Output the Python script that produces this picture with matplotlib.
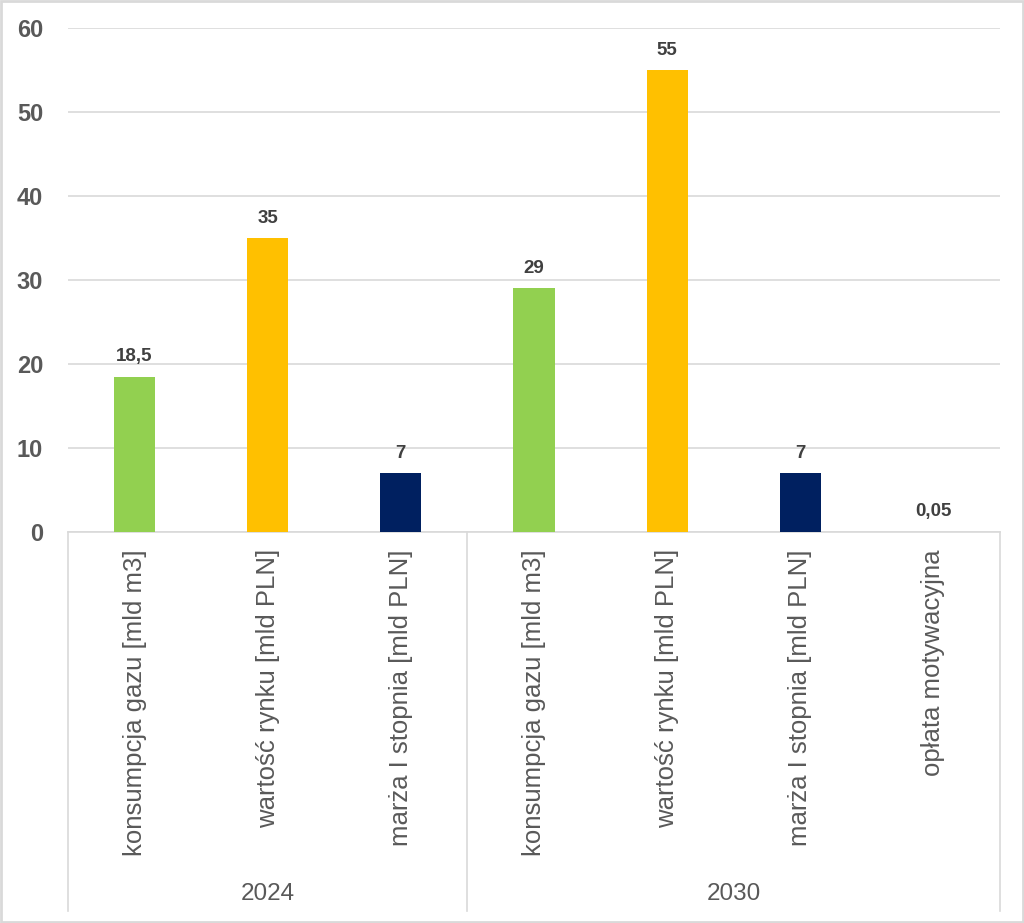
import matplotlib.pyplot as plt
from matplotlib.transforms import blended_transform_factory
from matplotlib.patches import Rectangle

plt.rcParams['font.family'] = ['Liberation Sans', 'DejaVu Sans']

categories = ["konsumpcja gazu [mld m3]", "wartość rynku [mld PLN]", "marża I stopnia [mld PLN]",
              "konsumpcja gazu [mld m3]", "wartość rynku [mld PLN]", "marża I stopnia [mld PLN]",
              "opłata motywacyjna"]
values = [18.5, 35, 7, 29, 55, 7, 0.05]
value_labels = ["18,5", "35", "7", "29", "55", "7", "0,05"]
colors = ["#92D050", "#FFC000", "#002060", "#92D050", "#FFC000", "#002060", "#002060"]
groups = ["2024", "2030"]
group_spans = [(0, 3), (3, 7)]

W, H = 1024, 923
fig = plt.figure(figsize=(W / 100, H / 100), dpi=100)
ax = fig.add_axes([68 / W, (H - 532) / H, (1000 - 68) / W, (532 - 28) / H])

x = list(range(len(values)))
ax.bar(x, values, width=0.31, color=colors, zorder=3)
ax.set_xlim(-0.5, len(values) - 0.5)
ax.set_ylim(0, 60)
ax.set_yticks(range(0, 61, 10))
ax.yaxis.grid(True, color="#D9D9D9", linewidth=1.2, zorder=0)
for s in ["top", "right", "left"]:
    ax.spines[s].set_visible(False)
ax.spines["bottom"].set_color("#D9D9D9")
ax.spines["bottom"].set_linewidth(1.2)
ax.tick_params(axis="y", length=0, pad=18, labelsize=17, labelcolor="#595959")
for lab in ax.get_yticklabels():
    lab.set_fontweight("bold")
ax.set_xticks([])

for xi, v, t in zip(x, values, value_labels):
    ax.annotate(t, (xi, v), xytext=(0, 8), textcoords="offset points",
                ha="center", va="bottom", fontsize=13.5, fontweight="bold", color="#404040")

trans = blended_transform_factory(ax.transData, fig.transFigure)
for xi, c in zip(x, categories):
    ax.text(xi, (H - 549) / H, c, transform=trans, rotation=90, ha="center", va="top",
            fontsize=18.5, color="#595959")

for g, (a, b) in zip(groups, group_spans):
    ax.text((a + b - 1) / 2, (H - 894) / H, g, transform=trans, ha="center", va="center",
            fontsize=17.5, color="#595959")

for xb in [-0.5, 2.5, 6.5]:
    ax.plot([xb, xb], [(H - 532) / H, (H - 911) / H], transform=trans, color="#D9D9D9",
            linewidth=1.2, clip_on=False)

fig.patches.append(Rectangle((0.001, 0.001), 0.998, 0.998, transform=fig.transFigure,
                             fill=False, edgecolor="#D9D9D9", linewidth=2))

fig.savefig("out.png", dpi=100)
